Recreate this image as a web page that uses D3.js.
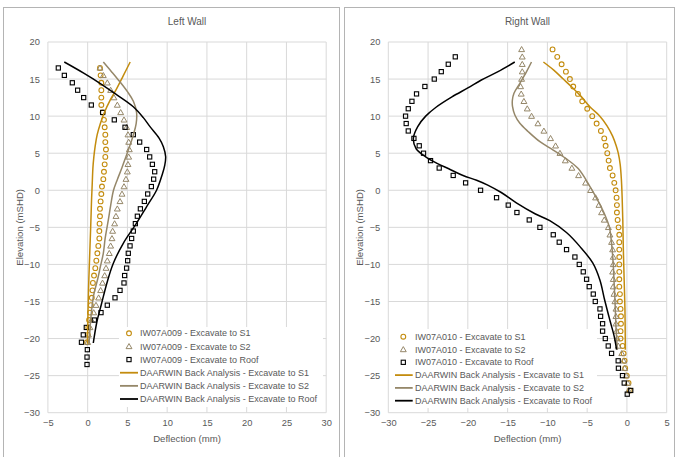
<!DOCTYPE html>
<html><head><meta charset="utf-8">
<script src="https://cdn.jsdelivr.net/npm/d3@7"></script>
<style>body{margin:0;background:#fff}svg{display:block;font-family:"Liberation Sans",Arial,sans-serif}</style>
</head><body><svg id="c" width="676" height="457"></svg>
<script>
// ---------- DATA ----------
const leftElev = [16.5,15.5,14.5,13.5,12.5,11.5,10.5,9.5,8.5,7.5,6.5,5.5,4.5,3.5,2.5,1.5,0.5,-0.5,-1.5,-2.5,-3.5,-4.5,-5.5,-6.5,-7.5,-8.5,-9.5,-10.5,-11.5,-12.5,-13.5,-14.5,-15.5,-16.5,-17.5,-18.5,-19.5,-20.5];
const leftS1 = [1.55,1.63,1.72,1.72,1.72,1.72,1.89,2.05,2.14,2.22,2.22,2.3,2.22,2.14,2.05,1.97,1.8,1.72,1.63,1.55,1.55,1.5,1.47,1.47,1.34,1.22,1.09,0.96,0.8,0.66,0.6,0.52,0.4,0.29,0.18,0.08,0.02,-0.08];
const leftS2 = [1.55,1.97,2.47,2.89,3.31,3.73,4.15,4.57,4.9,5.07,5.16,5.24,5.16,5.07,4.99,4.82,4.57,4.32,4.07,3.73,3.56,3.39,3.14,3.06,2.89,2.72,2.47,2.31,2.14,1.87,1.63,1.38,1.05,0.76,0.48,0.29,0.1,0.0];
const leftRoofElev = [16.5,15.5,14.5,13.5,12.5,11.5,10.5,9.5,8.5,7.5,6.5,5.5,4.5,3.5,2.5,1.5,0.5,-0.5,-1.5,-2.5,-3.5,-4.5,-5.5,-6.5,-7.5,-8.5,-9.5,-10.5,-11.5,-12.5,-13.5,-14.5,-15.5,-16.5,-17.5,-18.5,-19.5,-20.5,-21.5,-22.5,-23.5];
const leftRoof = [-3.69,-2.93,-1.93,-1.26,-0.5,0.46,1.89,3.35,4.7,5.74,6.54,7.42,7.8,8.14,8.43,8.3,8.01,7.55,7.13,6.63,6.25,6.0,5.74,5.53,5.33,5.11,5.03,4.9,4.65,4.57,4.07,3.44,2.47,1.68,0.84,-0.17,-0.55,-0.78,-0.04,-0.08,-0.08];

const leftLineS1 = [[5.35,17.3],[4.5,15.5],[3.6,13.6],[2.8,12.1],[2.1,10.5],[1.6,9],[1.2,7.5],[0.95,6],[0.78,4.5],[0.66,3],[0.58,1],[0.5,-1],[0.44,-3],[0.38,-5],[0.28,-8],[0.15,-12],[0.05,-16],[-0.02,-20.7]];
const leftLineS2 = [[1.97,17.3],[3.0,16.0],[4.0,14.7],[5.0,13.3],[5.75,12.0],[6.15,10.5],[6.1,9.0],[5.75,7.5],[5.3,6],[4.8,4.5],[4.3,3],[3.75,1.5],[3.25,0],[2.9,-2],[2.6,-4],[2.2,-6.5],[1.97,-8.5],[1.6,-10.3],[1.3,-11.8],[0.71,-14.4],[0.38,-17.5],[0.21,-20.0],[0.13,-20.7]];
const leftLineRoof = [[-2.94,17.3],[-0.5,15.8],[1.55,14.43],[3.5,13],[5.74,11.27],[7.0,9.8],[7.84,8.58],[9.0,7],[9.52,5.88],[9.81,4.53],[9.7,3.4],[9.4,2.2],[8.68,0.04],[7.42,-2.2],[6.05,-4.6],[4.48,-7.15],[3.23,-9.85],[2.45,-12.4],[1.72,-15.4],[1.15,-17.8],[0.71,-20.6]];

const rightElev = [19,18,17,16,15,14,13,12,11,10,9,8,7,6,5,4,3,2,1,0,-1,-2,-3,-4,-5,-6,-7,-8,-9,-10,-11,-12,-13,-14,-15,-16,-17,-18,-19,-20,-21,-22,-23,-24,-25,-26,-27];
const rightS1 = [-9.35,-8.76,-8.21,-7.67,-7.17,-6.75,-6.16,-5.62,-4.99,-4.36,-3.81,-3.27,-2.85,-2.68,-2.47,-2.3,-2.14,-1.8,-1.59,-1.42,-1.3,-1.26,-1.26,-1.17,-1.05,-0.96,-0.96,-0.96,-0.96,-0.96,-0.96,-0.96,-0.96,-0.88,-0.88,-0.8,-0.75,-0.75,-0.8,-0.8,-0.54,-0.42,-0.3,-0.22,-0.02,0.2,0.35];
const rightS2 = [-13.24,-13.16,-13.16,-13.16,-13.24,-13.37,-13.29,-12.95,-12.53,-11.99,-11.19,-10.44,-9.6,-8.97,-8.42,-7.75,-6.92,-6.08,-5.2,-4.57,-3.94,-3.52,-3.19,-2.85,-2.33,-2.14,-1.93,-1.8,-1.72,-1.72,-1.8,-1.72,-1.72,-1.63,-1.51,-1.38,-1.38,-1.38,-1.3,-1.22,-1.09,-0.65,-0.42,-0.28,-0.1,0.1,0.2];
const rightRoofElev = [18,17,16,15,14,13,12,11,10,9,8,7,6,5,4,3,2,1,0,-1,-2,-3,-4,-5,-6,-7,-8,-9,-10,-11,-12,-13,-14,-15,-16,-17,-18,-19,-20,-21,-22,-23,-24,-25,-26,-27,-27.5];
const rightRoof = [-21.58,-22.46,-23.34,-24.22,-25.4,-26.45,-27.03,-27.49,-27.83,-27.75,-27.49,-26.78,-26.11,-25.57,-24.69,-23.6,-21.84,-20.28,-18.4,-16.39,-14.92,-13.83,-12.28,-10.94,-9.26,-8.51,-7.59,-6.54,-5.99,-5.49,-5.07,-4.74,-4.23,-3.98,-3.39,-3.31,-3.06,-3.06,-2.72,-2.35,-1.93,-1.1,-1.07,-0.56,-0.34,0.48,0.04];

const rightLineS1 = [[-10.5,17.3],[-9.2,16.2],[-8.0,15],[-6.9,13.9],[-5.8,12.7],[-4.6,11.2],[-3.4,10],[-2.5,8.7],[-1.8,7.3],[-1.35,6],[-1.09,5],[-0.85,3.5],[-0.7,1.5],[-0.6,-1],[-0.52,-4],[-0.45,-8],[-0.35,-12],[-0.25,-16],[-0.2,-21.5]];
const rightLineS2 = [[-12.0,17.3],[-12.62,16.0],[-13.46,14.43],[-14.2,13.08],[-14.4,12.18],[-14.38,11.27],[-14.09,10.15],[-13.46,9.03],[-12.4,7.9],[-10.94,6.55],[-9.27,5.43],[-7.7,4.3],[-6.1,2.9],[-4.7,0.6],[-3.6,-1.5],[-2.7,-3.5],[-2.2,-5],[-1.9,-7.5],[-1.72,-10],[-1.6,-12.7],[-1.5,-15],[-1.35,-19],[-1.2,-21.5]];
const rightLineRoof = [[-14.1,17.3],[-16.2,16.0],[-18.3,14.87],[-20.0,13.8],[-22.0,12.6],[-24.0,11.2],[-25.3,10.0],[-26.3,8.6],[-26.85,7.0],[-26.5,5.6],[-25.3,4.5],[-23.8,3.6],[-22.4,2.9],[-20.6,2.0],[-18.9,1.35],[-17.5,0.7],[-15.8,-0.3],[-13.9,-1.7],[-11.5,-3.2],[-9.7,-4.1],[-7.6,-5.7],[-5.9,-7.6],[-4.3,-9.8],[-3.4,-12.1],[-2.8,-14.8],[-2.15,-17.5],[-1.6,-19.7],[-1.3,-21.5]];

const leftXTicks = [-5,0,5,10,15,20,25,30];
const rightXTicks = [-30,-25,-20,-15,-10,-5,0,5];
const yTicks = [20,15,10,5,0,-5,-10,-15,-20,-25,-30];
const leftLegend = ["IW07A009 - Excavate to S1","IW07A009 - Excavate to S2","IW07A009 - Excavate to Roof","DAARWIN Back Analysis - Excavate to S1","DAARWIN Back Analysis - Excavate to S2","DAARWIN Back Analysis - Excavate to Roof"];
const rightLegend = ["IW07A010 - Excavate to S1","IW07A010 - Excavate to S2","IW07A010 - Excavate to Roof","DAARWIN Back Analysis - Excavate to S1","DAARWIN Back Analysis - Excavate to S2","DAARWIN Back Analysis - Excavate to Roof"];

// ---------- DRAW ----------
const C1 = "#C38C0E", C2 = "#958769", C3 = "#000000", TXT = "#595959", GRID = "#d9d9d9";
const svg = d3.select("#c");

function panel(o) {
  const g = svg.append("g");
  g.append("rect").attr("x", o.fx).attr("y", 7.5).attr("width", o.fw).attr("height", 460)
    .attr("fill", "#fff").attr("stroke", "#b4b4b4").attr("stroke-width", 1);
  const x = d3.scaleLinear().domain(o.xd).range([o.x0, o.x1]);
  const y = d3.scaleLinear().domain([-30, 20]).range([412.7, 42]);
  g.append("g").selectAll("line").data(o.xt).join("line")
    .attr("x1", d => x(d)).attr("x2", d => x(d)).attr("y1", y(20)).attr("y2", y(-30))
    .attr("stroke", GRID).attr("stroke-width", 1);
  g.append("g").selectAll("line").data(yTicks).join("line")
    .attr("x1", o.x0).attr("x2", o.x1).attr("y1", d => y(d)).attr("y2", d => y(d))
    .attr("stroke", GRID).attr("stroke-width", 1);
  const ax = g.append("g").attr("transform", `translate(0,${y(-30)})`)
    .call(d3.axisBottom(x).tickValues(o.xt).tickSize(0).tickPadding(7).tickFormat(d3.format("d")));
  ax.select(".domain").remove();
  ax.selectAll("text").attr("fill", TXT).style("font-size", "9.3px").style("font-family", "Liberation Sans, Arial, sans-serif");
  const ay = g.append("g").attr("transform", `translate(${o.x0},0)`)
    .call(d3.axisLeft(y).tickValues(yTicks).tickSize(0).tickPadding(8).tickFormat(d3.format("d")));
  ay.select(".domain").remove();
  ay.selectAll("text").attr("fill", TXT).style("font-size", "9.3px").style("font-family", "Liberation Sans, Arial, sans-serif");
  g.append("text").attr("x", (o.x0 + o.x1) / 2).attr("y", 24.5).attr("text-anchor", "middle")
    .attr("fill", TXT).style("font-size", "10px").text(o.title);
  g.append("text").attr("x", (o.x0 + o.x1) / 2).attr("y", 441.5).attr("text-anchor", "middle")
    .attr("fill", TXT).style("font-size", "9.6px").text("Deflection (mm)");
  g.append("text").attr("transform", `translate(${o.yl},${(y(20) + y(-30)) / 2}) rotate(-90)`)
    .attr("text-anchor", "middle").attr("dy", "0.35em")
    .attr("fill", TXT).style("font-size", "9.6px").text("Elevation (mSHD)");
  const circ = (sel, pts) => sel.selectAll("circle").data(pts).join("circle")
    .attr("cx", d => x(d[0])).attr("cy", d => y(d[1])).attr("r", 2.4)
    .attr("fill", "none").attr("stroke", C1).attr("stroke-width", 1.1);
  const tri = d3.symbol().type(d3.symbolTriangle).size(15);
  const triS = (sel, pts) => sel.selectAll("path").data(pts).join("path")
    .attr("d", tri).attr("transform", d => `translate(${x(d[0])},${y(d[1]) + 0.5})`)
    .attr("fill", "none").attr("stroke", C2).attr("stroke-width", 1);
  const sq = (sel, pts) => sel.selectAll("rect").data(pts).join("rect")
    .attr("x", d => x(d[0]) - 2.1).attr("y", d => y(d[1]) - 2.1).attr("width", 4.2).attr("height", 4.2)
    .attr("fill", "none").attr("stroke", C3).attr("stroke-width", 1.1);
  circ(g.append("g"), o.s1);
  triS(g.append("g"), o.s2);
  sq(g.append("g"), o.roof);
  const line = d3.line().x(d => x(d[0])).y(d => y(d[1])).curve(d3.curveCatmullRom.alpha(0.5));
  [[o.l1, C1], [o.l2, C2], [o.l3, C3]].forEach(([pts, c]) =>
    g.append("path").attr("d", line(pts)).attr("fill", "none").attr("stroke", c).attr("stroke-width", 1.5));
  const L = o.leg;
  g.append("rect").attr("x", L.x).attr("y", L.y).attr("width", L.w).attr("height", L.h).attr("fill", "#fff");
  const cols = [C1, C2, C3, C1, C2, C3];
  o.legText.forEach((t, i) => {
    const yy = L.r0 + i * L.dy;
    if (i === 0) g.append("circle").attr("cx", L.mx).attr("cy", yy).attr("r", 2.4).attr("fill", "none").attr("stroke", C1).attr("stroke-width", 1.1);
    if (i === 1) g.append("path").attr("d", tri).attr("transform", `translate(${L.mx},${yy + 0.5})`).attr("fill", "none").attr("stroke", C2).attr("stroke-width", 1);
    if (i === 2) g.append("rect").attr("x", L.mx - 2.1).attr("y", yy - 2.1).attr("width", 4.2).attr("height", 4.2).attr("fill", "none").attr("stroke", C3).attr("stroke-width", 1.1);
    if (i >= 3) g.append("line").attr("x1", L.lx0).attr("x2", L.lx1).attr("y1", yy).attr("y2", yy).attr("stroke", cols[i]).attr("stroke-width", 1.8);
    g.append("text").attr("x", L.tx).attr("y", yy).attr("dy", "0.35em").attr("fill", TXT)
      .style("font-size", "9px").text(t);
  });
}

panel({
  fx: 3.5, fw: 336, x0: 47.9, x1: 326.2, xd: [-5, 30], xt: leftXTicks, title: "Left Wall", yl: 20,
  s1: leftElev.map((e, i) => [leftS1[i], e]),
  s2: leftElev.map((e, i) => [leftS2[i], e]),
  roof: leftRoofElev.map((e, i) => [leftRoof[i], e]),
  l1: leftLineS1, l2: leftLineS2, l3: leftLineRoof,
  legText: leftLegend,
  leg: { x: 119, y: 327, w: 204, h: 80, r0: 333.3, dy: 13.14, mx: 129, lx0: 120, lx1: 138, tx: 140 }
});
panel({
  fx: 344.5, fw: 330, x0: 388.3, x1: 666.7, xd: [-30, 5], xt: rightXTicks, title: "Right Wall", yl: 360,
  s1: rightElev.map((e, i) => [rightS1[i], e]),
  s2: rightElev.map((e, i) => [rightS2[i], e]),
  roof: rightRoofElev.map((e, i) => [rightRoof[i], e]),
  l1: rightLineS1, l2: rightLineS2, l3: rightLineRoof,
  legText: rightLegend,
  leg: { x: 389, y: 329, w: 208, h: 79, r0: 336.7, dy: 12.8, mx: 403.3, lx0: 395, lx1: 412.7, tx: 415 }
});
</script></body></html>
